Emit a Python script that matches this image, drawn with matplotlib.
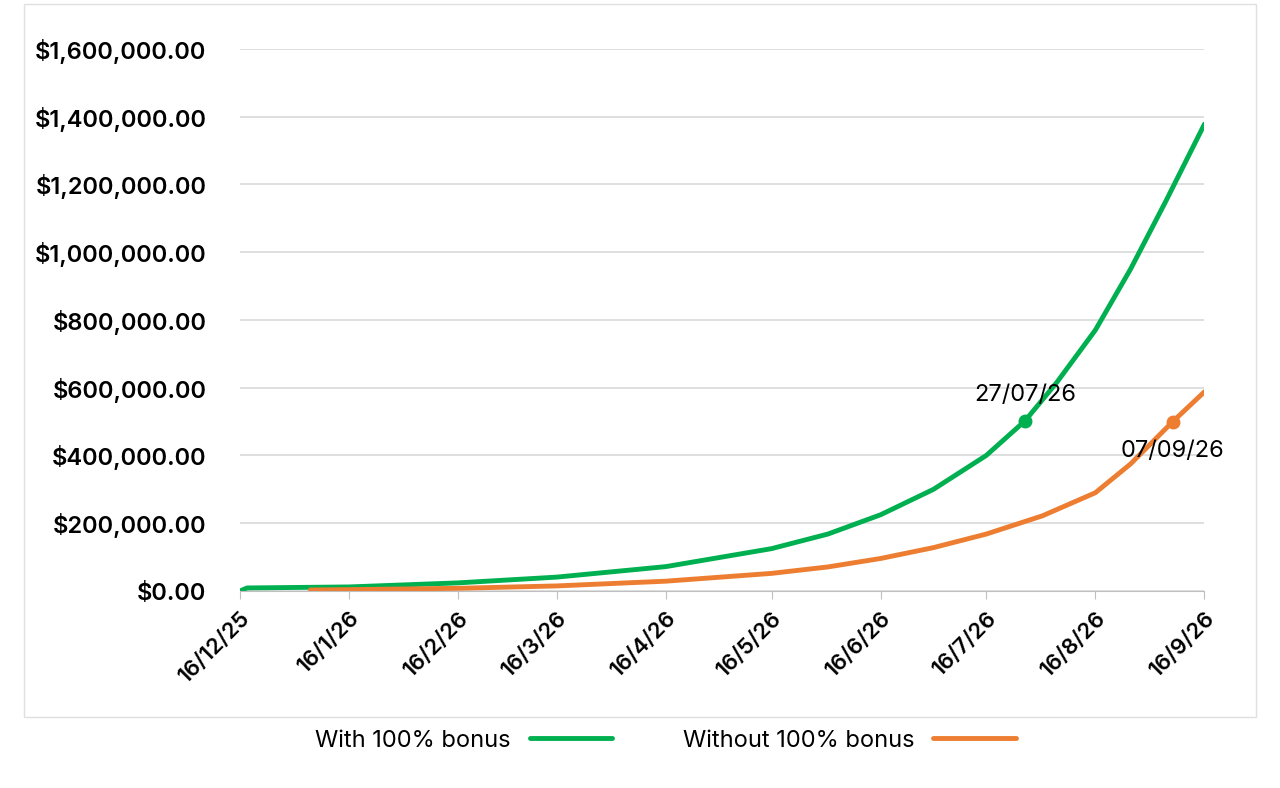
import matplotlib
matplotlib.use("Agg")
import matplotlib.pyplot as plt
from matplotlib.ticker import FuncFormatter
from matplotlib.patches import Rectangle
from datetime import datetime

plt.rcParams['font.family'] = ['Inter', 'DejaVu Sans']

with_dates = ["2025-12-16", "2025-12-18", "2026-01-16", "2026-02-16", "2026-03-16", "2026-04-16",
              "2026-05-16", "2026-06-01", "2026-06-16", "2026-07-01", "2026-07-16", "2026-07-27",
              "2026-08-05", "2026-08-16", "2026-08-26", "2026-09-05", "2026-09-16"]
with_vals = [0, 9000, 12000, 24000, 41000, 72000, 125000, 168000, 225000, 300000, 400000, 502000,
             615000, 770000, 950000, 1150000, 1378000]
without_dates = ["2026-01-05", "2026-01-16", "2026-02-16", "2026-03-16", "2026-04-16", "2026-05-16",
                 "2026-06-01", "2026-06-16", "2026-07-01", "2026-07-16", "2026-08-01", "2026-08-16",
                 "2026-08-26", "2026-09-07", "2026-09-16"]
without_vals = [3000, 4000, 8000, 15000, 29000, 52000, 71000, 96000, 128000, 168000, 222000, 290000,
                375000, 500000, 588000]
tick_dates = ["2025-12-16", "2026-01-16", "2026-02-16", "2026-03-16", "2026-04-16", "2026-05-16",
              "2026-06-16", "2026-07-16", "2026-08-16", "2026-09-16"]
tick_labels = ["16/12/25", "16/1/26", "16/2/26", "16/3/26", "16/4/26", "16/5/26",
               "16/6/26", "16/7/26", "16/8/26", "16/9/26"]

green = "#00b050"
orange = "#ed7d31"

to_dt = lambda l: [datetime.strptime(s, "%Y-%m-%d") for s in l]

fig = plt.figure(figsize=(12.8, 7.88), dpi=100)
fig.patches.append(Rectangle((0.019, 0.09), 0.962, 0.905, transform=fig.transFigure,
                             fill=False, edgecolor="#e0e0e0", lw=1))
ax = fig.add_axes([0.1875, 0.25, 0.7535, 0.688])

ax.plot(to_dt(with_dates), with_vals, color=green, lw=3.5, label="With 100% bonus",
        solid_capstyle="round", solid_joinstyle="round")
ax.plot(to_dt(without_dates), without_vals, color=orange, lw=3.5, label="Without 100% bonus",
        solid_capstyle="round", solid_joinstyle="round")

ax.plot(datetime(2026, 7, 27), 502000, "o", color=green, ms=9)
ax.plot(datetime(2026, 9, 7), 500000, "o", color=orange, ms=9)
ax.text(datetime(2026, 7, 27), 545000, "27/07/26", ha="center", va="bottom", fontsize=17)
ax.text(datetime(2026, 9, 7), 445000, "07/09/26", ha="center", va="top", fontsize=17)

ax.set_ylim(0, 1600000)
ax.set_xlim(datetime(2025, 12, 16), datetime(2026, 9, 16))
ax.set_yticks(range(0, 1600001, 200000))
ax.yaxis.set_major_formatter(FuncFormatter(lambda v, p: "${:,.2f}".format(v)))
ax.set_xticks(to_dt(tick_dates))
ax.set_xticklabels(tick_labels, rotation=45, ha="right", rotation_mode="anchor", fontsize=16)
ax.tick_params(axis="y", labelsize=17, length=0, pad=24)
ax.tick_params(axis="x", length=6, color="#bfbfbf", pad=6)
for lbl in ax.get_yticklabels() + ax.get_xticklabels():
    lbl.set_fontweight("semibold")
ax.grid(axis="y", color="#d9d9d9", lw=1.2)
for s in ["top", "right", "left"]:
    ax.spines[s].set_visible(False)
ax.spines["bottom"].set_color("#bfbfbf")
ax.set_axisbelow(True)

fig.legend(loc="center", bbox_to_anchor=(0.52, 0.06), ncol=2, frameon=False, fontsize=17,
           markerfirst=False, handlelength=3.5, columnspacing=3)

fig.savefig("out.png", dpi=100)
